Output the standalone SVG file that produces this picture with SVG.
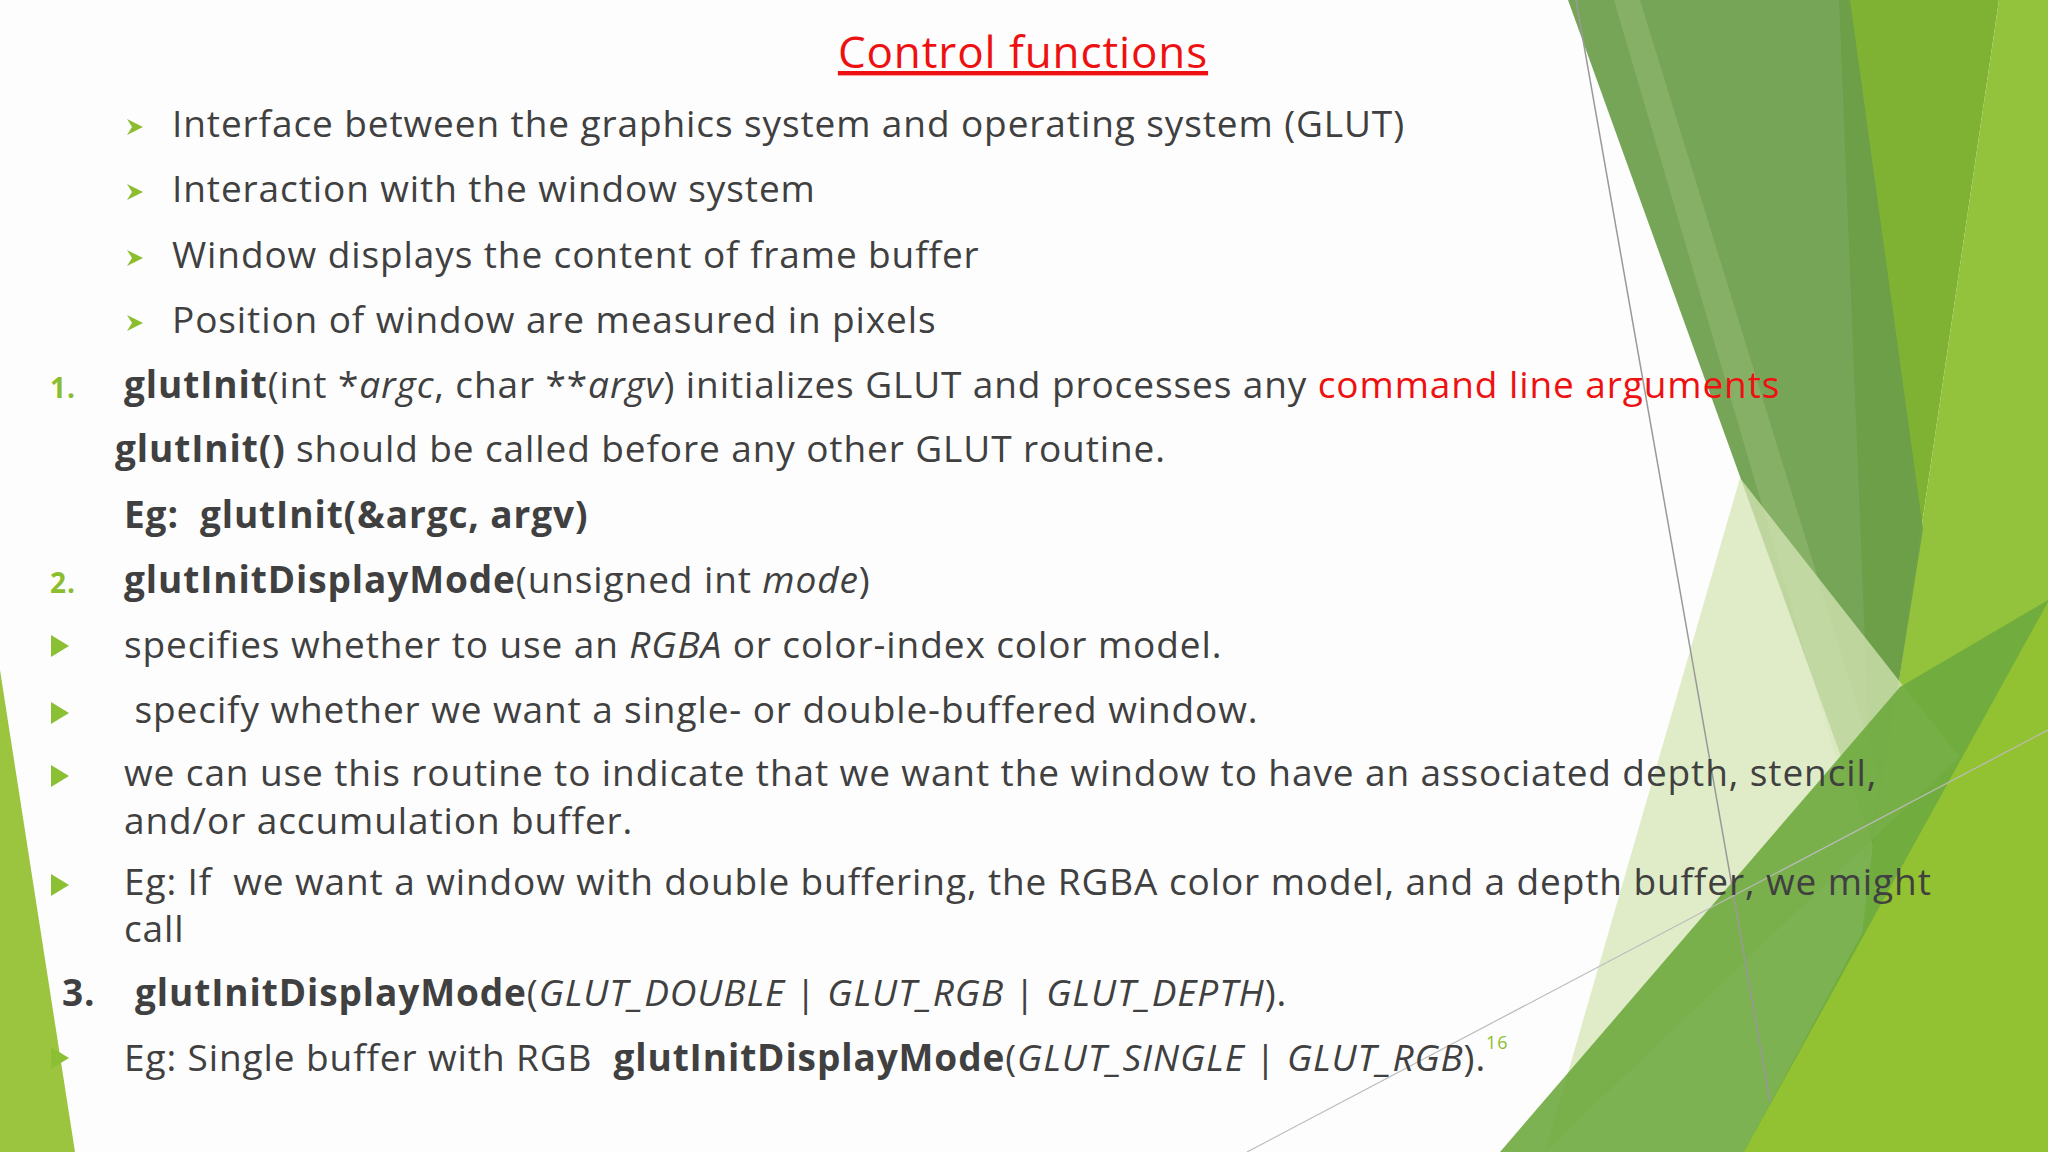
<svg xmlns="http://www.w3.org/2000/svg" width="2048" height="1152" viewBox="0 0 2048 1152">
<style>
text{font-family:"Open Sans","DejaVu Sans",sans-serif;font-size:37px;fill:#404040;letter-spacing:0.9px;white-space:pre}
.b{font-weight:bold}.i{font-style:italic}.r{fill:#ee1111}
.num{fill:#8bbd2f;font-size:28px;font-weight:bold}
.tri{fill:#8cc034}
</style>
<defs>
<path id="arr" d="M0,-11 L18,0 L0,11 Z"/>
<path id="sarr" d="M0,-8 L16,0 L0,8 L5,0 Z"/>
</defs>
<rect width="2048" height="1152" fill="#fdfdfd"/>
<g id="bg">
<polygon points="0,670 75,1152 0,1152" fill="#9bc53f"/>
<polygon points="1839,0 1999,0 1862,933 1873,845" fill="#7fb233"/>
<polygon points="1999,0 2048,0 2048,1152 1744,1152 1862,933" fill="#93c33c"/>
<polygon points="1568,0 1850,0 1923,529 1873,845" fill="#6b9d4a" opacity="0.92"/>
<polygon points="1614,0 1640,0 1880,780 1866,860" fill="#b8d592" opacity="0.25"/>
<polygon points="1545,1152 1740,478 1959,757" fill="#d5e6b5" opacity="0.75"/>
<polygon points="1500,1152 1900,687 2048,600 2048,1152" fill="#6eaa3e" opacity="0.9"/>
<polygon points="1744,1152 2048,602 2048,1152" fill="#92c231"/>
<line x1="1576" y1="0" x2="1770" y2="1102" stroke="#999" stroke-width="1.5"/>
<line x1="1247" y1="1152" x2="2048" y2="730" stroke="#bbb" stroke-width="1.2"/>
</g>
<g id="title"><text x="1023" y="68" text-anchor="middle" class="r" style="font-size:44px" text-decoration="underline">Control functions</text></g>
<g id="list">
<use href="#sarr" x="127" y="127" fill="#8bbd2f"/>
<use href="#sarr" x="127" y="192" fill="#8bbd2f"/>
<use href="#sarr" x="127" y="258" fill="#8bbd2f"/>
<use href="#sarr" x="127" y="323" fill="#8bbd2f"/>
<text x="172" y="137">Interface between the graphics system and operating system (GLUT)</text>
<text x="172" y="202">Interaction with the window system</text>
<text x="172" y="268">Window displays the content of frame buffer</text>
<text x="172" y="333">Position of window are measured in pixels</text>
<text x="50" y="398" class="num">1.</text>
<text x="124" y="398"><tspan class="b">glutInit</tspan>(int *<tspan class="i">argc</tspan>, char **<tspan class="i">argv</tspan>) initializes GLUT and processes any <tspan class="r">command line arguments</tspan></text>
<text x="115" y="462"><tspan class="b">glutInit()</tspan> should be called before any other GLUT routine.</text>
<text x="124" y="528" class="b">Eg:  glutInit(&amp;argc, argv)</text>
<text x="50" y="593" class="num">2.</text>
<text x="124" y="593"><tspan class="b">glutInitDisplayMode</tspan>(unsigned int <tspan class="i">mode</tspan>)</text>
<use href="#arr" x="51" y="646" class="tri"/>
<use href="#arr" x="51" y="713" class="tri"/>
<use href="#arr" x="51" y="776" class="tri"/>
<use href="#arr" x="51" y="885" class="tri"/>
<use href="#arr" x="51" y="1058" class="tri"/>
<text x="124" y="658">specifies whether to use an <tspan class="i">RGBA</tspan> or color-index color model.</text>
<text x="124" y="723"> specify whether we want a single- or double-buffered window.</text>
<text x="124" y="786">we can use this routine to indicate that we want the window to have an associated depth, stencil,</text>
<text x="124" y="834">and/or accumulation buffer.</text>
<text x="124" y="895">Eg: If  we want a window with double buffering, the RGBA color model, and a depth buffer, we might</text>
<text x="124" y="942">call</text>
<text x="62" y="1006" class="b">3.</text>
<text x="135" y="1006"><tspan class="b">glutInitDisplayMode</tspan>(<tspan class="i">GLUT_DOUBLE</tspan> | <tspan class="i">GLUT_RGB</tspan> | <tspan class="i">GLUT_DEPTH</tspan>).</text>
<text x="124" y="1071">Eg: Single buffer with RGB  <tspan class="b">glutInitDisplayMode</tspan>(<tspan class="i">GLUT_SINGLE</tspan> | <tspan class="i">GLUT_RGB</tspan>).<tspan dy="-22" style="font-size:18px;fill:#8bbd2f">16</tspan></text>
</g>
</svg>
